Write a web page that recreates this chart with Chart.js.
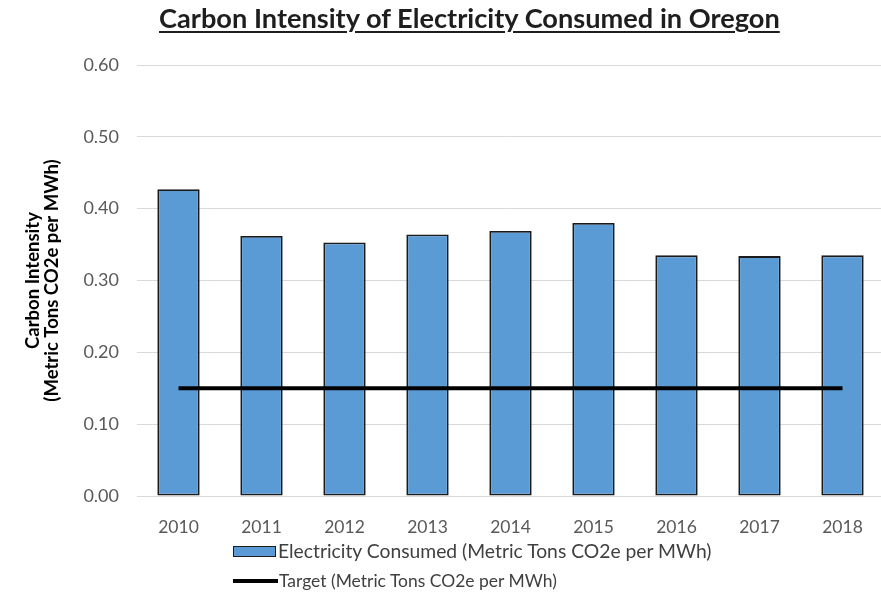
<!DOCTYPE html>
<html>
<head>
<meta charset="utf-8">
<script src="https://cdn.jsdelivr.net/npm/chart.js@4.4.1/dist/chart.umd.min.js"></script>
<style>
  html, body { margin: 0; padding: 0; background: #fff; overflow: hidden; width: 881px; height: 593px; }
  #wrap { position: absolute; left: 0; top: 0; width: 884px; height: 593px; }
  #title { position: absolute; left: 159px; top: 4px; white-space: nowrap; font-family: Lato, "Liberation Sans", sans-serif; font-weight: bold; color: #1e1e1e; line-height: 1; text-decoration: underline; text-decoration-thickness: 2px; text-underline-offset: 3px; }
  .leg { position: absolute; left: 233px; display: flex; align-items: center; white-space: nowrap; font-family: Lato, "Liberation Sans", sans-serif; color: #404040; }
  .leg .txt { display: inline-block; line-height: 1; }
  #leg1 { top: 541px; height: 20px; }
  #leg2 { top: 571px; height: 20px; }
  #leg1 .sw { width: 41px; height: 9px; background: #5b9bd5; border: 1.5px solid #1c1c1c; margin-right: 2px; }
  #leg2 .sw { width: 45px; height: 4px; background: #000; margin-right: 1px; }
</style>
</head>
<body>
<div id="wrap"><canvas id="c"></canvas></div>
<div id="title"><span class="txt">Carbon Intensity of Electricity Consumed in Oregon</span></div>
<div class="leg" id="leg1"><span class="sw"></span><span class="txt" id="t1">Electricity Consumed (Metric Tons CO2e per MWh)</span></div>
<div class="leg" id="leg2"><span class="sw"></span><span class="txt" id="t2">Target (Metric Tons CO2e per MWh)</span></div>
<script>
const years = ['2010', '2011', '2012', '2013', '2014', '2015', '2016', '2017', '2018'];
const electricityConsumed = [0.427, 0.362, 0.353, 0.364, 0.369, 0.380, 0.335, 0.334, 0.335];
const target = [0.15, 0.15, 0.15, 0.15, 0.15, 0.15, 0.15, 0.15, 0.15];
const yTicks = [0.00, 0.10, 0.20, 0.30, 0.40, 0.50, 0.60];

function fit(el, w) {
  el.style.fontSize = '100px';
  const m = el.getBoundingClientRect().width;
  el.style.fontSize = (100 * w / m) + 'px';
}
fit(document.querySelector('#title .txt'), 621);
fit(document.getElementById('t1'), 434);
fit(document.getElementById('t2'), 278);

const PAD_LEFT = 24;
const PLOT_LEFT = 137;
const PLOT_TOP = 65;
const PLOT_BOTTOM = 496;
const H = 593;

new Chart(document.getElementById('c'), {
  type: 'bar',
  data: {
    labels: years,
    datasets: [
      {
        type: 'line',
        label: 'Target (Metric Tons CO2e per MWh)',
        data: target,
        borderColor: '#000',
        borderWidth: 4,
        pointRadius: 0,
        fill: false,
        tension: 0,
        order: 0
      },
      {
        type: 'bar',
        label: 'Electricity Consumed (Metric Tons CO2e per MWh)',
        data: electricityConsumed,
        backgroundColor: '#5b9bd5',
        borderColor: '#1a1a1a',
        borderWidth: 1.8,
        borderSkipped: false,
        barPercentage: 0.51,
        categoryPercentage: 1.0,
        order: 1
      }
    ]
  },
  options: {
    responsive: true,
    maintainAspectRatio: false,
    animation: false,
    devicePixelRatio: 1,
    layout: { padding: { left: PAD_LEFT, top: PLOT_TOP, right: 0, bottom: 0 } },
    plugins: { legend: { display: false }, tooltip: { enabled: false }, title: { display: false } },
    scales: {
      x: {
        offset: true,
        grid: { display: false },
        border: { display: false },
        ticks: { color: '#595959', font: { family: 'Lato', size: 17.5 }, padding: 13, maxRotation: 0, autoSkip: false },
        afterFit: s => { s.height = H - PLOT_BOTTOM; }
      },
      y: {
        min: 0,
        max: 0.6,
        afterBuildTicks: s => { s.ticks = yTicks.map(v => ({ value: v })); },
        grid: { color: '#d9d9d9', lineWidth: 1, drawTicks: false },
        border: { display: false },
        ticks: { color: '#595959', font: { family: 'Lato', size: 18 }, padding: 18, callback: v => Number(v).toFixed(2) },
        title: {
          display: true,
          text: ['Carbon Intensity', '(Metric Tons CO2e per MWh)'],
          color: '#000',
          font: { family: 'Lato', size: 18.5, weight: 'bold', lineHeight: 1.02 },
          padding: { top: 0, bottom: 0 }
        },
        afterFit: s => { s.width = PLOT_LEFT - PAD_LEFT; }
      }
    }
  }
});
</script>
</body>
</html>
